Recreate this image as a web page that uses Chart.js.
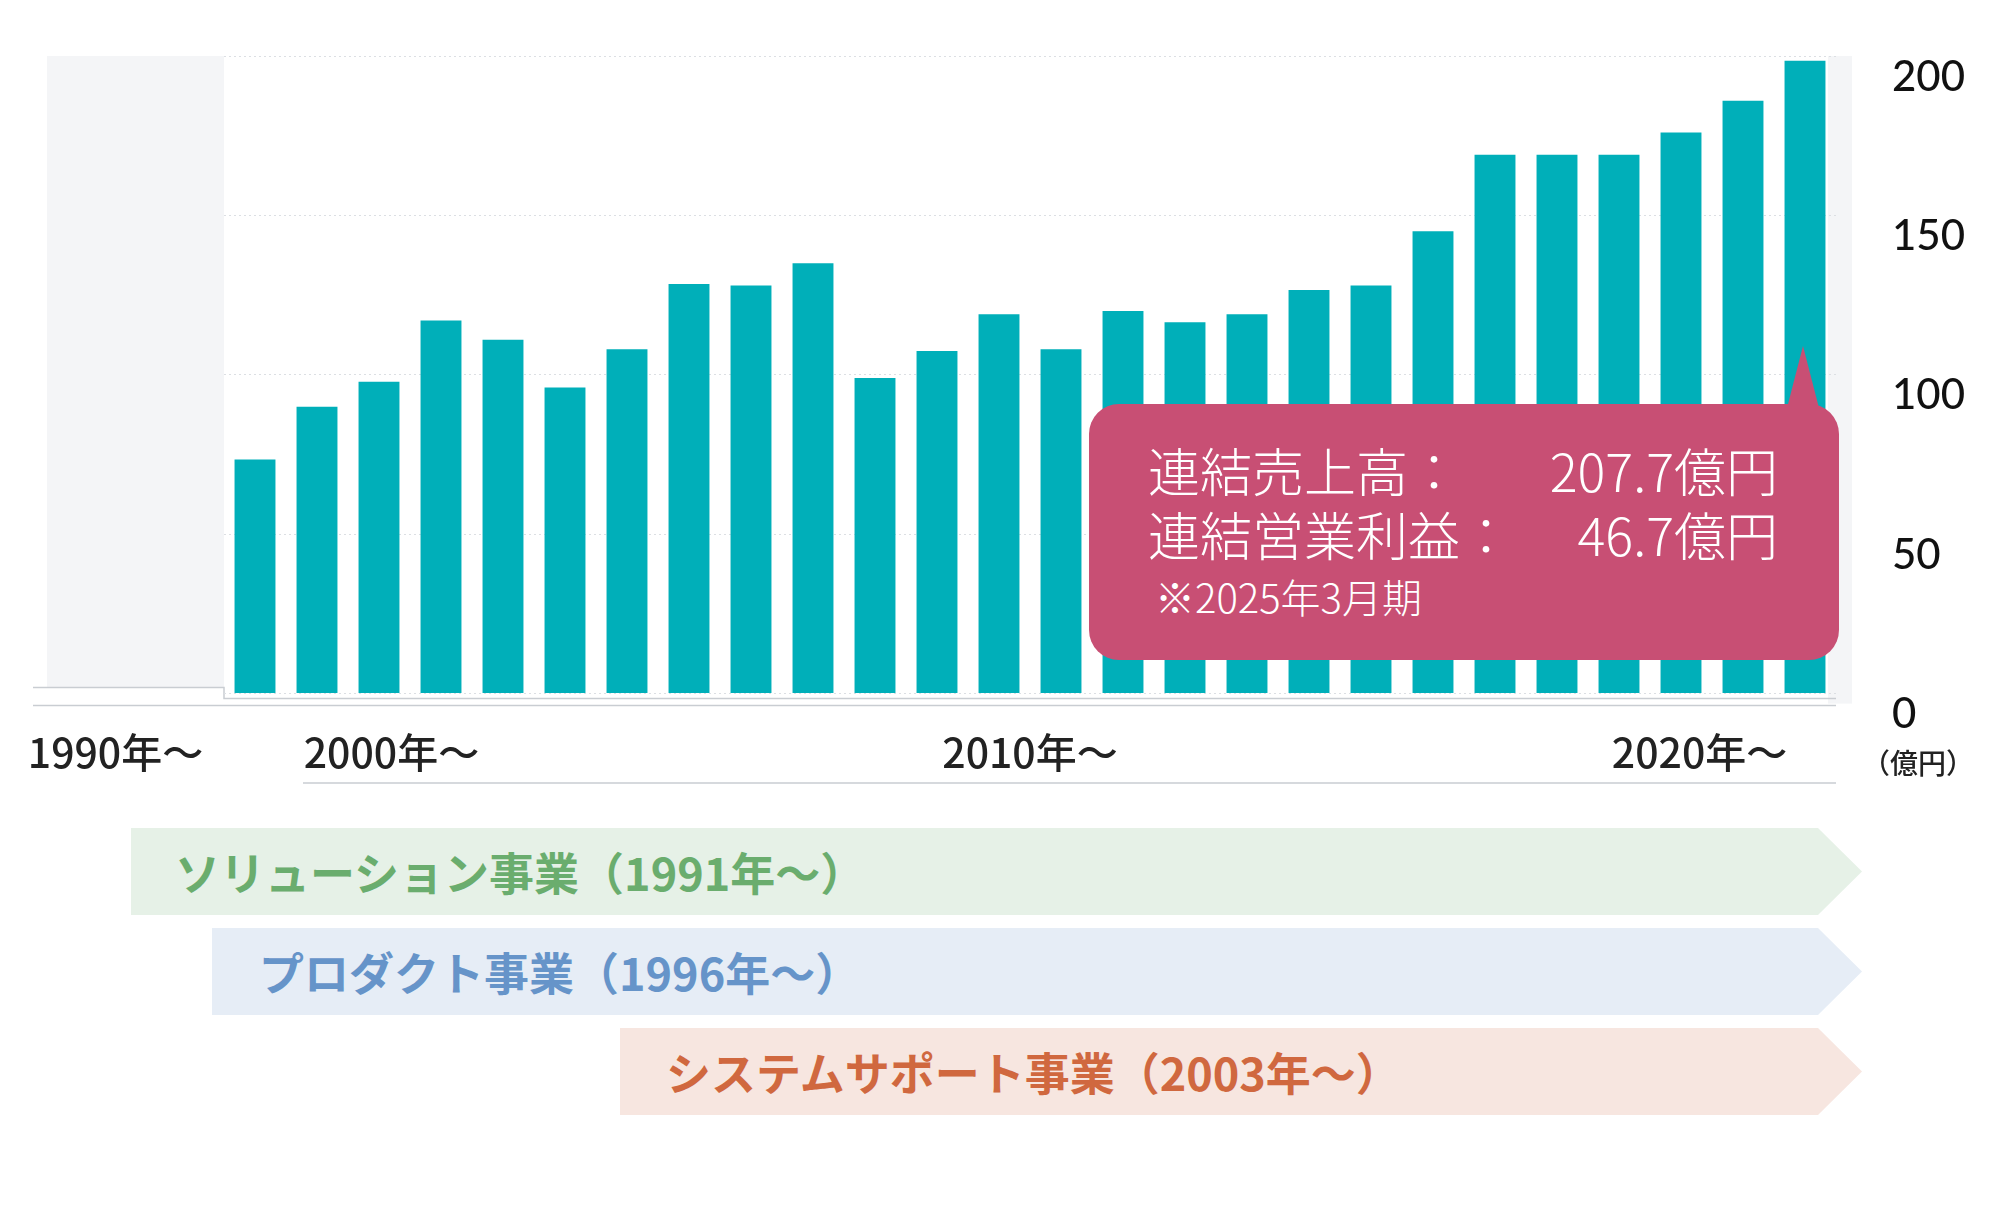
<!DOCTYPE html>
<html><head><meta charset="utf-8">
<script src="https://cdn.jsdelivr.net/npm/chart.js@4"></script>
<style>
body{margin:0;width:1998px;height:1207px;background:#fff;position:relative;overflow:hidden;font-family:"Noto Sans CJK JP","Noto Sans",sans-serif}
#wrap{position:absolute;left:0;top:0;width:1998px;height:800px}
.arrow{position:absolute;height:87px;clip-path:polygon(0 0,calc(100% - 44px) 0,100% 50%,calc(100% - 44px) 100%,0 100%);font-weight:700;font-size:45px;line-height:87px;box-sizing:border-box}
#tip{position:absolute;left:1089px;top:404px;width:750px;height:256px;background:#c84f74;border-radius:30px;color:#fff}
#tri{position:absolute;left:1787px;top:346px;width:0;height:0;border-left:16px solid transparent;border-right:16px solid transparent;border-bottom:62px solid #c84f74}
.ln{position:absolute;left:59px;width:630px;display:flex;justify-content:space-between;font-size:52px;font-weight:300;line-height:1}
</style></head><body>
<div id="wrap"><canvas id="c" width="1998" height="800"></canvas></div>
<div id="tri"></div>
<div id="tip">
 <div class="ln" style="top:40px"><span>連結売上高：</span><span>207.7億円</span></div>
 <div class="ln" style="top:104px"><span>連結営業利益：</span><span>46.7億円</span></div>
 <div class="ln" style="top:172px;font-size:40px;left:66px">※2025年3月期</div>
</div>
<div style="position:absolute;left:1862px;top:742px;font-size:28px;font-weight:500;color:#222">（億円）</div>
<div class="arrow" style="left:131px;top:828px;width:1731px;background:#e6f1e7;color:#6aad6e;padding-left:44px">ソリューション事業（1991年〜）</div>
<div class="arrow" style="left:212px;top:928px;width:1650px;background:#e6edf6;color:#6694c9;padding-left:47px">プロダクト事業（1996年〜）</div>
<div class="arrow" style="left:620px;top:1028px;width:1242px;background:#f7e6e0;color:#d0683f;padding-left:46px">システムサポート事業（2003年〜）</div>
<script>
const years = ['2000','2001','2002','2003','2004','2005','2006','2007','2008','2009','2010','2011','2012','2013','2014','2015','2016','2017','2018','2019','2020','2021','2022','2023','2024','2025'];
const sales = [73.4,90,97.8,117,111,96,108,128.5,128,135,99,107.5,119,108,120,116.5,119,126.6,128,145,169,169,169,176,186,198.5];
const yTicks = [0,50,100,150,200];
const decadeLabels = ['1990年〜','2000年〜','2010年〜','2020年〜'];
const decadeAnchors = [-2.25,2.2,12.5,23.3];

const deco = {
  id:'deco',
  beforeDraw(ch){
    const {ctx,chartArea:a}=ch;
    ctx.save();
    ctx.fillStyle='#f4f5f7';
    ctx.fillRect(47,a.top,a.left-47,a.bottom-a.top-6);
    ctx.fillRect(a.right-8,a.top,24,a.bottom-a.top+10);
    ctx.strokeStyle='#c9cdd2';ctx.lineWidth=1.5;
    ctx.beginPath();ctx.moveTo(33,a.bottom-6);ctx.lineTo(a.left,a.bottom-6);ctx.lineTo(a.left,a.bottom+5);ctx.lineTo(a.right,a.bottom+5);ctx.stroke();
    ctx.beginPath();ctx.moveTo(33,a.bottom+12);ctx.lineTo(a.right,a.bottom+12);ctx.stroke();
    ctx.beginPath();ctx.moveTo(303,783);ctx.lineTo(1836,783);ctx.stroke();
    ctx.restore();
  },
  afterDraw(ch){
    const {ctx}=ch;const x=ch.scales.x;
    ctx.save();ctx.fillStyle='#222';ctx.font='500 41px "Noto Sans CJK JP"';ctx.textAlign='center';ctx.textBaseline='middle';
    decadeLabels.forEach((l,i)=>ctx.fillText(l,x.getPixelForValue(decadeAnchors[i]),752));
    ctx.restore();
  }
};
new Chart(document.getElementById('c'),{
  type:'bar',
  data:{labels:years,datasets:[{data:sales,backgroundColor:'#00afb9',barPercentage:0.66,categoryPercentage:1}]},
  options:{responsive:false,animation:false,
    layout:{padding:{left:224,top:23,bottom:92,right:0}},
    plugins:{legend:{display:false},tooltip:{enabled:false}},
    scales:{
      x:{display:false,grid:{display:false}},
      y:{position:'right',min:0,max:200,
        afterBuildTicks:s=>{s.ticks=yTicks.map(v=>({value:v}));},
        afterFit:s=>{s.width=162;},
        grid:{drawTicks:false,color:'#dcdfe3',lineWidth:1,tickBorderDash:[2,2]},
        border:{display:false,dash:[2,3]},
        ticks:{padding:56,color:'#111',font:{family:'Lato',size:42,weight:'500'},align:'start'}
      }}},
  plugins:[deco]
});
</script></body></html>
